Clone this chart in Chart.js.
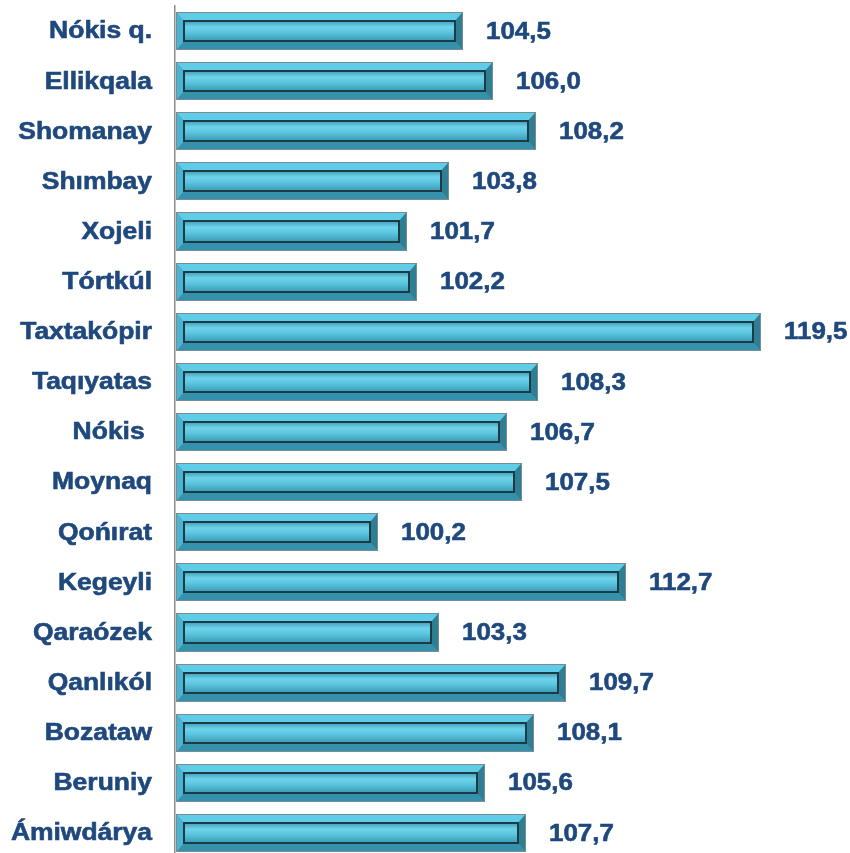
<!DOCTYPE html>
<html>
<head>
<meta charset="utf-8">
<script src="https://cdn.jsdelivr.net/npm/chart.js@4/dist/chart.umd.min.js"></script>
<style>
  html, body { margin: 0; padding: 0; background: #fff; overflow: hidden; }
</style>
</head>
<body>
<canvas id="districtChart" width="850" height="862"></canvas>
<script>
var districts = ["Nókis q.", "Ellikqala", "Shomanay", "Shımbay", "Xojeli", "Tórtkúl", "Taxtakópir", "Taqıyatas", "Nókis ", "Moynaq", "Qońırat", "Kegeyli", "Qaraózek", "Qanlıkól", "Bozataw", "Beruniy", "Ámiwdárya"];
var growth = [104.5, 106.0, 108.2, 103.8, 101.7, 102.2, 119.5, 108.3, 106.7, 107.5, 100.2, 112.7, 103.3, 109.7, 108.1, 105.6, 107.7];
var axisMin = 90;
var axisMax = 124;

var textColor = '#1f497d';
var textFont = '"Liberation Sans", Arial, sans-serif';

// draws the bevelled bars, the value labels and the (slightly widened) category labels
var bevelBars = {
    id: 'bevelBars',
    afterDatasetsDraw: function (chart) {
        var ctx = chart.ctx;
        var meta = chart.getDatasetMeta(0);
        meta.data.forEach(function (bar, i) {
            var p = bar.getProps(['x', 'y', 'base', 'height'], true);
            var x0 = Math.round(p.base) + 1, x1 = Math.round(p.x);
            var y0 = Math.round(p.y - p.height / 2), y1 = Math.round(p.y + p.height / 2);
            var bx = 7, by = 8;
            ctx.save();
            // outer edge
            ctx.fillStyle = '#7a8c93';
            ctx.fillRect(x0, y0, x1 - x0, y1 - y0);
            var ox0 = x0 + 1, ox1 = x1 - 1, oy0 = y0 + 1, oy1 = y1 - 1;
            function poly(pts, col) {
                ctx.beginPath();
                ctx.moveTo(pts[0][0], pts[0][1]);
                for (var k = 1; k < pts.length; k++) ctx.lineTo(pts[k][0], pts[k][1]);
                ctx.closePath();
                ctx.fillStyle = col;
                ctx.fill();
            }
            poly([[ox0, oy0], [ox1, oy0], [ox1 - bx, oy0 + by], [ox0 + bx, oy0 + by]], '#5fcde8');
            poly([[ox0, oy1], [ox1, oy1], [ox1 - bx, oy1 - by], [ox0 + bx, oy1 - by]], '#3592ac');
            poly([[ox0, oy0], [ox0 + bx, oy0 + by], [ox0 + bx, oy1 - by], [ox0, oy1]], '#48b6d2');
            poly([[ox1, oy0], [ox1 - bx, oy0 + by], [ox1 - bx, oy1 - by], [ox1, oy1]], '#2f7f94');
            // inner face
            var ix0 = ox0 + bx, ix1 = ox1 - bx, iy0 = oy0 + by, iy1 = oy1 - by;
            var g = ctx.createLinearGradient(0, iy0, 0, iy1);
            g.addColorStop(0, '#3f9fb9');
            g.addColorStop(0.3, '#6fd3ea');
            g.addColorStop(0.55, '#5cc6e0');
            g.addColorStop(1, '#3a9ab5');
            ctx.fillStyle = g;
            ctx.fillRect(ix0, iy0, ix1 - ix0, iy1 - iy0);
            ctx.strokeStyle = '#1d3a45';
            ctx.lineWidth = 2;
            ctx.strokeRect(ix0, iy0, ix1 - ix0, iy1 - iy0);
            // value label
            ctx.fillStyle = textColor;
            ctx.strokeStyle = textColor;
            ctx.lineWidth = 0.6;
            ctx.font = 'bold 24px ' + textFont;
            ctx.textAlign = 'left';
            ctx.textBaseline = 'middle';
            ctx.translate(x1 + 23, p.y + 1);
            ctx.scale(1.08, 1);
            var txt = growth[i].toFixed(1).replace('.', ',');
            ctx.fillText(txt, 0, 0);
            ctx.strokeText(txt, 0, 0);
            ctx.restore();
        });

        // category labels
        var yScale = chart.scales.y;
        districts.forEach(function (name, i) {
            ctx.save();
            ctx.fillStyle = textColor;
            ctx.strokeStyle = textColor;
            ctx.lineWidth = 0.6;
            ctx.font = 'bold 23px ' + textFont;
            ctx.textAlign = 'right';
            ctx.textBaseline = 'middle';
            ctx.translate(152, yScale.getPixelForTick(i) + 1);
            ctx.scale(1.15, 1);
            ctx.fillText(name, 0, 0);
            ctx.strokeText(name, 0, 0);
            ctx.restore();
        });
    }
};

new Chart(document.getElementById("districtChart"), {
    type: 'bar',
    data: {
        labels: districts,
        datasets: [{
            data: growth,
            base: axisMin,
            backgroundColor: 'rgba(0,0,0,0)',
            borderWidth: 0,
            barPercentage: 0.76,
            categoryPercentage: 1
        }]
    },
    options: {
        indexAxis: 'y',
        responsive: false,
        animation: false,
        layout: { padding: { top: 6, bottom: 4, right: 0, left: 0 } },
        plugins: {
            legend: { display: false },
            tooltip: { enabled: false }
        },
        scales: {
            x: {
                display: false,
                min: axisMin,
                max: axisMax
            },
            y: {
                afterFit: function (scale) {
                    scale.width = 175;
                    scale.paddingTop = 0;
                    scale.paddingBottom = 0;
                },
                grid: { display: false, drawTicks: false },
                border: { display: true, color: '#8c8c8c', width: 1.5 },
                ticks: { display: false }
            }
        }
    },
    plugins: [bevelBars]
});
</script>
</body>
</html>
